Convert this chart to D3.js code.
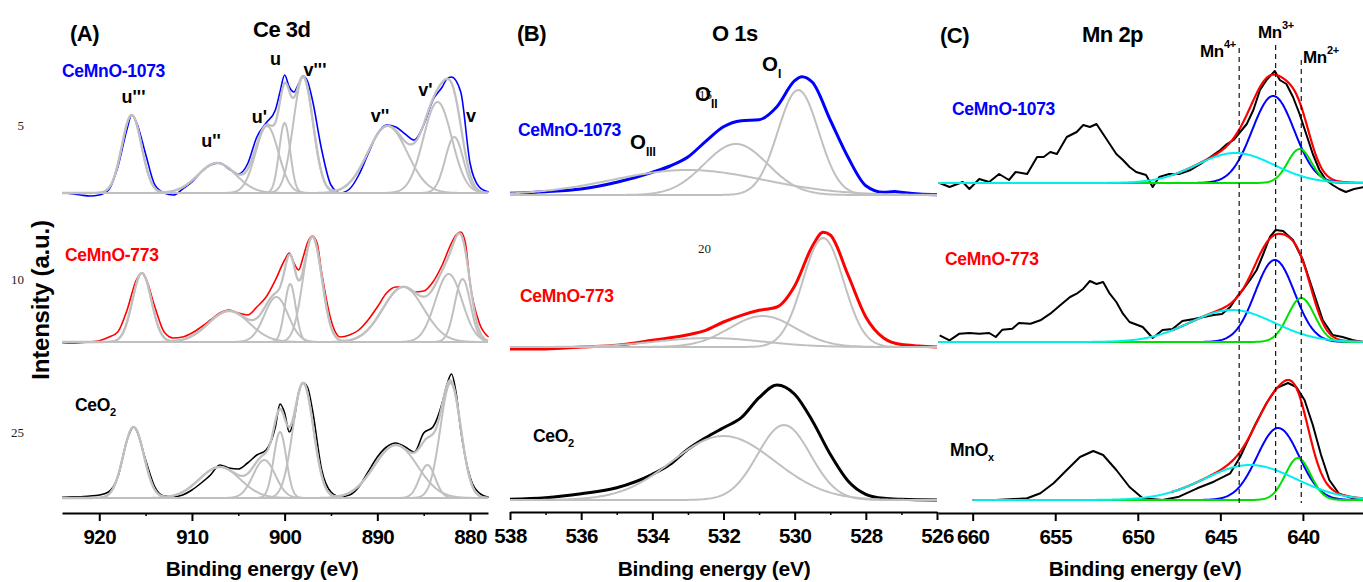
<!DOCTYPE html>
<html lang="en">
  <head>
    <meta charset="utf-8" />
    <script src="https://d3js.org/d3.v7.min.js"></script>
    <style type="text/css">
      body {
        margin: 0;
        background: #fff;
      }
      svg#xps {
        display: block;
        background: #fff;
      }
    </style>
  </head>

  <body>
    <svg id="xps" width="1363" height="582"></svg>

    <script>
      // ---- tick values ----
      let ceTicks = [920, 910, 900, 890, 880];
      let ceMinorTicks = [915, 905, 895, 885];
      let oTicks = [538, 536, 534, 532, 530, 528, 526];
      let oMinorTicks = [537, 535, 533, 531, 529, 527];
      let mnTicks = [660, 655, 650, 645, 640];

      // ---- sample names [text, subscript] ----
      let ceSamples = [["CeMnO-1073", ""], ["CeMnO-773", ""], ["CeO", "2"]];
      let mnSamples = [["CeMnO-1073", ""], ["CeMnO-773", ""], ["MnO", "x"]];
      let ceLabels = ["u'''", "u''", "u'", "u", "v'''", "v''", "v'", "v"];
      let oLabels = ["I", "II", "III"];
      let mnStates = ["4+", "3+", "2+"];
      let mnStateBE = [643.86, 641.65, 640.1];

      // ---- Ce 3d measured spectra [BE, intensity] ----
      let ce1073 = [[924,0],[923,-0.7],[922,-2],[921,-3],[920,-2],[919,3],[918,26],[917,64],[916.5,78],[916,71],[915,39],[914,8],[913,0],[912,-2],[911,4],[910,11],[909,21],[908,28],[907,30],[906,24],[905,19],[904,29],[903,56],[902,70],[901,83],[900.5,101],[900,118],[899.5,106],[899,101],[898.5,109],[898,117],[897.5,111],[897,93],[896,43],[895,8],[894,0],[893,4],[892,18],[891,39],[890,59],[889,68],[888,66],[887,59],[886,53],[885,68],[884,93],[883,106],[882.5,114],[882,116],[881,101],[880,30],[879,6],[878,1]];
      let ce773 = [[924,-0.7],[923,-1.3],[922,-0.7],[921,0],[920,1.3],[919,4.7],[918,10],[917,32],[916,62],[915.4,69],[915,64],[914,35],[913,10],[912,4],[911,5],[910,9],[909,15],[908,22],[907,29],[906,32],[905,29],[904,27],[903,35],[902,45],[901,62],[900,82],[899.5,89],[899,79],[898.5,72],[898,85],[897.5,100],[897,106],[896.5,99],[896,69],[895,22],[894,5],[893,7],[892,12],[891,22],[890,35],[889,49],[888,55],[887,55],[886,50],[885,51],[884,60],[883,77],[882,99],[881.5,107],[881,110],[880.5,99],[880,59],[879,19],[878,5]];
      let ceCeO2 = [[924,0.7],[923,1.3],[922,1.3],[921,2],[920,3],[919,6],[918,21],[917,58],[916.3,71],[916,68],[915,38],[914,11],[913,2],[912,1.3],[911,3],[910,8],[909,15],[908,23],[907,33],[906,30],[905,29],[904,35],[903,43],[902,48],[901,71],[900.5,94],[900,85],[899.5,66],[899,78],[898.5,105],[898,115],[897.5,110],[897,88],[896,28],[895,6],[894,1.3],[893,3],[892,11],[891,26],[890,41],[889,51],[888,55],[887,51],[886,46],[885,65],[884,71],[883,95],[882.5,113],[882,124],[881.5,105],[881,68],[880,21],[879,5],[878,0.7]];

      // ---- Ce 3d fitted peaks [centre eV, height, FWHM eV] (u''', u'', u', u, v''', v'', v', v) ----
      let ceFit1073 = [[916.5,78,2.5],[907.3,30,4.8],[901.9,67,2.9],[900.0,70,1.4],[898.0,116,2.5],[888.9,67,5.0],[883.5,91,3.6],[881.7,56,2.3]];
      let ceFit773 = [[915.4,69,2.4],[906.0,31,5.2],[900.9,45,3.0],[899.4,58,1.4],[897.0,105,2.4],[887.2,55,5.2],[882.3,68,3.4],[880.8,63,2.0]];
      let ceFitCeO2 = [[916.3,71,2.6],[907.0,31,5.2],[902.2,38,2.8],[900.5,66,1.6],[898.0,115,2.6],[888.0,53,5.5],[884.6,33,2.0],[882.1,115,2.6]];

      // ---- O 1s measured spectra ----
      let o1073 = [[538,1.7],[537,3.3],[536,6],[535,12.7],[534,22.7],[533.5,29],[533,38],[532.5,53.7],[532,68.3],[531.5,74.3],[531,75.3],[530.5,88.3],[530,114.3],[529.8,118.3],[529.5,112.7],[529,75],[528.5,37.7],[528,9.3],[527.5,2.7],[527.2,3.5],[527,2.7],[526.5,1],[526,0.3]];
      let o773 = [[538,-2],[537,-2],[536,0],[535,1.7],[534,6.7],[533,12.3],[532.5,16.7],[532,25],[531.5,31.7],[531,36.7],[530.5,40],[530,61],[529.5,101],[529.2,114.7],[529,112],[528.5,72],[528,30],[527.5,9],[527,2.4],[526.5,1],[526,0]];
      let oCeO2 = [[538,0.7],[537,2.3],[536,6.3],[535,12.3],[534,25.7],[533.5,35.7],[533,50.7],[532.5,62.3],[532,72.3],[531.5,82.3],[531,102.3],[530.5,115],[530,105.7],[529.5,79],[529,45.7],[528.5,19],[528,5.7],[527.5,1.7],[527,0.7],[526,0]];

      // ---- O 1s fitted peaks ----
      let oFit1073 = [[529.9,105,1.35],[531.65,51,2.1],[533.0,25,5.0]];
      let oFit773 = [[529.2,109,1.35],[530.9,31,2.2],[532.4,9,3.5]];
      let oFitCeO2 = [[530.3,75,1.75],[532.0,64,3.4]];

      // ---- Mn 2p measured spectra ----
      let mn1073 = [[662.0,0],[661.4,-4],[660.6,1],[660.2,-6],[659.6,4],[659.0,1],[658.4,9],[657.8,3],[657.4,11],[656.7,9],[656.1,26],[655.7,26],[655.3,31],[654.9,29],[654.3,46],[653.7,51],[653.3,58],[652.9,56],[652.5,59],[652.1,49],[651.7,39],[651.3,29],[650.9,23],[650.5,16],[650.1,11],[649.5,8],[649.1,-4],[648.7,6],[648.1,9],[647.5,9],[646.8,13],[646.2,19],[645.6,26],[645.0,33],[644.6,39],[644.2,43],[643.8,51],[643.4,59],[643.0,73],[642.6,93],[642.2,103],[641.7,112],[641.4,103],[641.0,99],[640.6,86],[640.2,69],[639.8,49],[639.4,29],[639.0,13],[638.6,3],[638.2,-2],[637.8,-6],[637.4,-9],[636.9,-6],[636.3,-4]];
      let mn773 = [[662.0,6.7],[661.4,1.7],[660.8,8.3],[660.2,9],[659.6,8.3],[659.0,9],[658.6,5],[658.2,12.3],[657.6,13.3],[657.2,19],[656.5,18.3],[655.9,21.7],[655.3,28.3],[654.7,36.7],[654.1,45],[653.7,48.3],[653.3,53.3],[652.9,61],[652.5,58],[652.1,60],[651.7,48.3],[651.3,40],[650.9,28.3],[650.5,20],[649.7,15],[649.1,4],[648.5,12],[647.9,13],[647.3,21],[646.6,23],[646.0,25],[645.4,27],[644.9,28],[644.4,35],[644.0,45],[643.6,53],[643.2,62],[642.8,72],[642.4,88],[642.0,105],[641.65,112],[641.2,111],[640.6,102],[640.0,82],[639.4,52],[638.8,22],[638.2,7],[637.6,5],[637.0,2],[636.4,0]];
      let mnMnOx = [[660.0,0],[658.6,0],[656.7,1.7],[655.9,6.7],[655.1,16.7],[654.3,30],[653.5,43],[652.7,49],[652.1,45],[651.3,30],[650.5,13],[649.7,1.7],[648.5,0],[647.5,3.3],[646.4,11.7],[645.4,18.3],[644.4,26.7],[643.8,43],[642.9,75],[642.2,97],[641.6,112],[640.9,117],[640.4,113],[639.9,100],[639.4,75],[638.9,45],[638.4,20],[637.8,6],[637.0,2],[636.4,1]];

      // ---- Mn 2p3/2 fitted peaks: Mn3+ (blue), Mn2+ (green), Mn4+ (cyan) ----
      let mnFit1073 = [[641.8,87,3.0],[640.2,34,1.7],[644.1,30,5.5]];
      let mnFit773 = [[641.7,82,2.8],[640.1,44,1.9],[644.3,32,6.0]];
      let mnFitMnOx = [[641.5,72,3.0],[640.3,42,1.8],[643.2,35,6.5]];

      // ------------------------------------------------------------
      const FONT = '"Liberation Sans", Arial, Helvetica, sans-serif';
      const SERIF = '"Liberation Serif", "Times New Roman", serif';
      const GRAY = "#c0c0c0";
      let svg = d3.select("#xps").attr("font-family", FONT);

      // intensity axis shared by all panels (a.u.)
      let y = d3.scaleLinear().domain([0, 500]).range([513, 13]);

      let xCe = d3.scaleLinear().domain([924.02, 878.06]).range([62, 488]);
      let xO = d3.scaleLinear().domain([538, 526]).range([510, 937]);
      let xMn = d3.scaleLinear().domain([662.1, 636.36]).range([938, 1363]);

      function peakFn(p) {
        return (e) => p[1] * Math.exp((-4 * Math.LN2 * (e - p[0]) * (e - p[0])) / (p[2] * p[2]));
      }

      function grid(lo, hi) {
        return d3.range(lo, hi + 0.001, 0.05);
      }

      function drawLine(pts, x, off, color, width, curve) {
        let line = d3
          .line()
          .x((d) => x(d[0]))
          .y((d) => y(d[1] + off))
          .curve(curve || d3.curveLinear);
        svg
          .append("path")
          .attr("d", line(pts))
          .attr("fill", "none")
          .attr("stroke", color)
          .attr("stroke-width", width)
          .attr("stroke-linejoin", "round");
      }

      function drawPeak(p, x, off, lo, hi, color, width) {
        let f = peakFn(p);
        let pts = grid(lo, hi).map((e) => [e, f(e)]);
        drawLine(pts, x, off, color, width);
      }

      function drawEnvelope(fit, x, off, lo, hi, color, width) {
        let fs = fit.map(peakFn);
        let pts = grid(lo, hi).map((e) => [e, d3.sum(fs, (f) => f(e))]);
        drawLine(pts, x, off, color, width);
      }

      function drawAxis(x, ticks, minor, yPos) {
        let g = svg.append("g").attr("transform", "translate(0," + yPos + ")");
        g.call(
          d3
            .axisBottom(x)
            .tickValues(ticks)
            .tickSize(8)
            .tickSizeOuter(0)
            .tickPadding(8)
            .tickFormat(d3.format("d"))
        );
        g.attr("font-family", FONT);
        g.select(".domain").attr("stroke-width", 2);
        g.selectAll(".tick line").attr("stroke-width", 2);
        g.selectAll(".tick text")
          .attr("font-size", 20.5)
          .attr("font-weight", "bold")
          .attr("letter-spacing", -0.6)
          .attr("fill", "#000");
        if (minor) {
          let m = svg.append("g").attr("transform", "translate(0," + yPos + ")");
          m.call(d3.axisBottom(x).tickValues(minor).tickSize(3).tickSizeOuter(0).tickFormat(""));
          m.select(".domain").remove();
          m.selectAll(".tick line").attr("stroke-width", 1.5);
        }
      }

      function text(x, yy, str, size, opts) {
        opts = opts || {};
        let t = svg
          .append("text")
          .attr("x", x)
          .attr("y", yy)
          .attr("font-size", size)
          .attr("font-weight", opts.normal ? "normal" : "bold")
          .attr("fill", opts.color || "#000")
          .attr("text-anchor", opts.anchor || "start")
          .attr("letter-spacing", opts.ls === undefined ? -0.3 : opts.ls)
          .text(str);
        if (opts.family) t.attr("font-family", opts.family);
        return t;
      }

      function sampleLabel(x, yy, parts, color) {
        let t = text(x, yy, parts[0], 17.5, { color: color, ls: -0.3 });
        if (parts[1]) t.append("tspan").attr("font-size", 11).attr("dy", 5).text(parts[1]);
      }

      // stray page numbers bleeding in from the source document
      [["5", 24, 130], ["10", 24, 284], ["25", 24, 437], ["30", 24, 590]].forEach((s) =>
        text(s[1], s[2], s[0], 13, { normal: true, anchor: "end", family: SERIF, ls: 0, color: "#222" })
      );
      text(698, 253, "20", 13, { normal: true, family: SERIF, ls: 0, color: "#222" });
      text(699, 99, "15", 13, { normal: true, family: SERIF, ls: 0, color: "#222" });

      // ================= Panel A : Ce 3d =================
      let ceColors = ["#0000ff", "#ff0000", "#000000"];
      let ceOffsets = [320, 171, 15];
      let ceData = [ce1073, ce773, ceCeO2];
      let ceFits = [ceFit1073, ceFit773, ceFitCeO2];
      ceData.forEach((d, i) => {
        drawLine(d, xCe, ceOffsets[i], ceColors[i], 1.6, d3.curveMonotoneX);
        ceFits[i].forEach((p) => drawPeak(p, xCe, ceOffsets[i], 878.06, 924.02, GRAY, 2));
        drawEnvelope(ceFits[i], xCe, ceOffsets[i], 878.06, 924.02, GRAY, 2.3);
      });
      drawAxis(xCe, ceTicks, ceMinorTicks, 513);

      text(70, 41, "(A)", 22, { ls: -0.5 });
      text(253, 37, "Ce 3d", 22, { ls: -0.5 });
      let cePos = [[133.5, 103], [211, 147], [259.5, 123], [275.5, 65], [315, 76], [380, 122], [425.5, 96], [471, 122]];
      ceLabels.forEach((l, i) => text(cePos[i][0], cePos[i][1], l, 18, { anchor: "middle", ls: 0 }));
      let ceLabelPos = [[62, 77], [65, 261], [75, 411]];
      ceSamples.forEach((s, i) => sampleLabel(ceLabelPos[i][0], ceLabelPos[i][1], s, ceColors[i]));

      // ================= Panel B : O 1s =================
      let oColors = ["#0000ff", "#ff0000", "#000000"];
      let oOffsets = [318, 166, 13];
      let oData = [o1073, o773, oCeO2];
      let oFits = [oFit1073, oFit773, oFitCeO2];
      oData.forEach((d, i) => {
        drawLine(d, xO, oOffsets[i], oColors[i], 3, d3.curveMonotoneX);
        oFits[i].forEach((p) => drawPeak(p, xO, oOffsets[i], 526, 538, GRAY, 2));
      });
      drawAxis(xO, oTicks, oMinorTicks, 512);

      text(517, 41, "(B)", 22, { ls: -0.5 });
      text(712, 41, "O 1s", 22, { ls: -0.5 });
      let oPos = [[762, 71], [695, 101], [630, 149]];
      oLabels.forEach((l, i) => {
        let t = text(oPos[i][0], oPos[i][1], "O", 20.5, { ls: 0 });
        t.append("tspan").attr("font-size", 12).attr("dy", 7).text(l);
      });
      let oLabelPos = [[518, 136], [520, 302], [533, 442]];
      ceSamples.forEach((s, i) => sampleLabel(oLabelPos[i][0], oLabelPos[i][1], s, oColors[i]));

      // ================= Panel C : Mn 2p =================
      let mnOffsets = [330, 171, 13];
      let mnData = [mn1073, mn773, mnMnOx];
      let mnFits = [mnFit1073, mnFit773, mnFitMnOx];
      let mnLo = [636.36, 636.36, 636.36];
      let mnHi = [662.1, 662.1, 660.0];
      let fitColors = ["#0000ff", "#00e000", "#00eeee"];
      mnData.forEach((d, i) => {
        drawLine(d, xMn, mnOffsets[i], "#000", 2);
        drawEnvelope(mnFits[i], xMn, mnOffsets[i], mnLo[i], 648, "#ff0000", 2.2);
        mnFits[i].forEach((p, j) => drawPeak(p, xMn, mnOffsets[i], mnLo[i], mnHi[i], fitColors[j], 2));
      });

      // reference positions of the Mn oxidation states
      let refTop = [48, 45, 60];
      mnStateBE.forEach((be, i) => {
        svg
          .append("line")
          .attr("x1", xMn(be))
          .attr("x2", xMn(be))
          .attr("y1", refTop[i])
          .attr("y2", 503)
          .attr("stroke", "#000")
          .attr("stroke-width", 1.1)
          .attr("stroke-dasharray", "5,4");
      });
      let mnPos = [[1200, 57], [1258, 38], [1303, 63]];
      mnStates.forEach((s, i) => {
        let t = text(mnPos[i][0], mnPos[i][1], "Mn", 17, { ls: -0.3 });
        t.append("tspan").attr("font-size", 11).attr("dy", -9).text(s);
      });
      drawAxis(xMn, mnTicks, null, 513);

      text(940, 43, "(C)", 22, { ls: -0.5 });
      text(1082, 42, "Mn 2p", 22, { ls: -0.5 });
      let mnLabelPos = [[952, 115], [945, 265], [950, 456]];
      mnSamples.forEach((s, i) => sampleLabel(mnLabelPos[i][0], mnLabelPos[i][1], s, ceColors[i]));

      // ================= axis titles =================
      [262, 714, 1145].forEach((cx) =>
        text(cx, 576, "Binding energy (eV)", 21, { anchor: "middle", ls: -0.3 })
      );
      text(0, 0, "Intensity (a.u.)", 24, { anchor: "middle", ls: -0.2 }).attr(
        "transform",
        "translate(49,300) rotate(-90)"
      );
    </script>
  </body>
</html>
